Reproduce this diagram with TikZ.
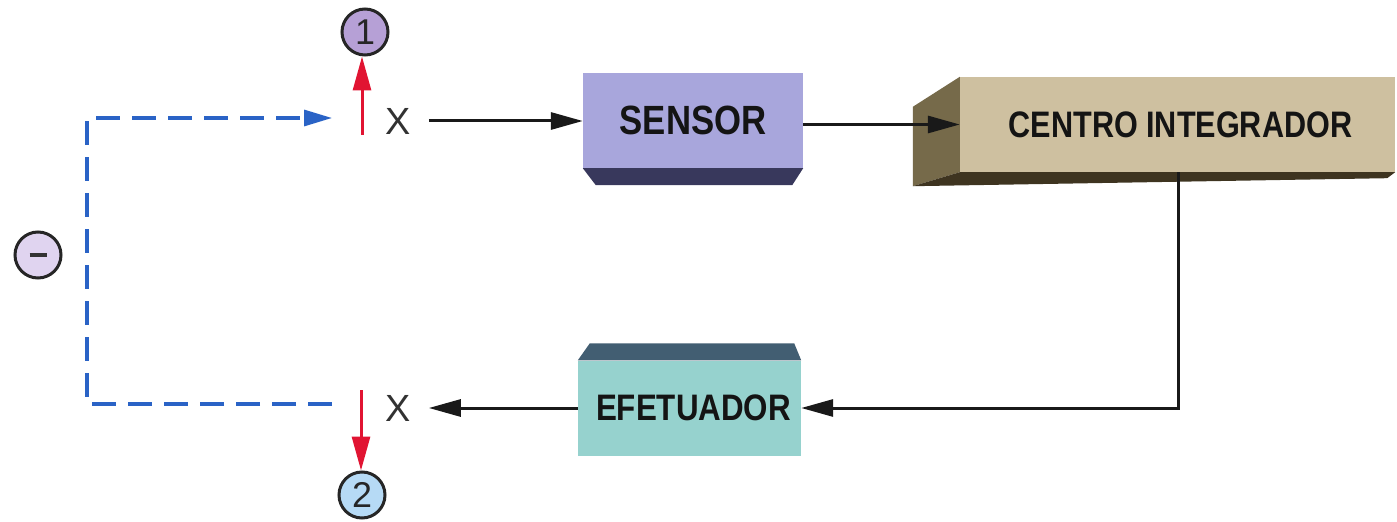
\documentclass[tikz,border=0pt]{standalone}
\usepackage{fontspec}
\usepackage{graphicx}
\setmainfont{Liberation Sans}
\usetikzlibrary{arrows.meta}
\definecolor{sensorfront}{RGB}{168,166,220}
\definecolor{sensordark}{RGB}{56,56,92}
\definecolor{centrofront}{RGB}{206,192,160}
\definecolor{centroside}{RGB}{118,106,74}
\definecolor{centrobottom}{RGB}{62,52,32}
\definecolor{efetfront}{RGB}{150,210,206}
\definecolor{efettop}{RGB}{66,94,114}
\definecolor{redarrow}{RGB}{225,20,50}
\definecolor{bluedash}{RGB}{42,99,198}
\definecolor{circA}{RGB}{182,160,214}
\definecolor{circB}{RGB}{182,218,245}
\definecolor{circC}{RGB}{224,212,240}
\definecolor{xgray}{RGB}{50,50,50}
\tikzset{
  boxlabel/.style={font=\fontsize{37}{37}\selectfont\bfseries, text=black!92, inner sep=0pt},
  sensorbox/.style={boxlabel, fill=sensorfront, minimum width=220bp, minimum height=95bp},
  centrobox/.style={boxlabel, fill=centrofront, minimum width=435bp, minimum height=95bp},
  efetbox/.style={boxlabel, fill=efetfront, minimum width=223bp, minimum height=95bp},
  xlab/.style={font=\fontsize{38}{38}\selectfont, text=xgray, inner sep=0pt},
  numcirc/.style={circle, draw=black!85, line width=3bp, minimum size=46bp, inner sep=0pt,
                  font=\fontsize{36}{36}\selectfont, text=black!85},
  blk/.style={draw=black!90, line width=3bp, -{Triangle[length=32bp,width=17bp]}},
  redarr/.style={draw=redarrow, line width=3bp, -{Triangle[length=34bp,width=18bp]}},
  bluedashed/.style={draw=bluedash, line width=3.2bp, dash pattern=on 24bp off 12bp,
                     -{Triangle[length=28bp,width=16bp]}}
}
\begin{document}
\begin{tikzpicture}[x=1bp,y=-1bp]
\useasboundingbox (0,0) rectangle (1397,522);

% boxes
\node[sensorbox, font=\fontsize{41}{41}\selectfont\bfseries] (sensor) at (693,120.5) {\scalebox{0.85}[1]{SENSOR}};
\fill[sensordark] (sensor.south west) -- (sensor.south east) -- ++(-11,17)
   -- ([shift={(13,17)}]sensor.south west) -- cycle;

\node[centrobox] (centro) at (1177.5,124.5) {\hspace*{6bp}\scalebox{0.83}[1]{CENTRO INTEGRADOR}};
\fill[centroside] (centro.north west) -- (centro.south west)
   -- ([shift={(-47,14)}]centro.south west) -- ([shift={(-47,30)}]centro.north west) -- cycle;
\fill[centrobottom] (centro.south west) -- (centro.south east) -- ++(-8,6)
   -- ([shift={(-47,14)}]centro.south west) -- cycle;

\node[efetbox] (efet) at (689.5,408) {\hspace*{8bp}\scalebox{0.85}[1]{EFETUADOR}};
\fill[efettop] (efet.north west) -- (efet.north east) -- ++(-7,-17)
   -- ([shift={(12,-17)}]efet.north west) -- cycle;

% X marks
\node[xlab] (x1) at (398,121) {X};
\node[xlab] (x2) at (398,408) {X};

% numbered circles
\node[numcirc, fill=circA] (c1) at (365,32) {1};
\node[numcirc, fill=circB] (c2) at (362,495) {2};
\node[numcirc, fill=circC] (cm) at (38,255) {\textcolor{black!80}{\rule{17bp}{3.2bp}}};

% main flow
\draw[blk, shorten <=18bp] (x1.east) -- (sensor.west |- x1.east);
\draw[blk] (sensor.east |- centro.west) -- (centro.west);
\coordinate (corner) at (1178,408);
\draw[draw=black!90, line width=3bp, -{Triangle[length=32bp,width=17bp]}]
   (corner |- centro.south) -- (corner) -- (efet.east);
\draw[blk, shorten >=18bp] (efet.west) -- (x2.east);

% red arrows
\coordinate (r1) at (362,135);
\coordinate (r2) at (361,390);
\draw[redarr] (r1) -- (r1 |- c1.south);
\draw[redarr] (r2) -- (r2 |- c2.north);

% blue dashed feedback
\coordinate (d1) at (332,404);
\coordinate (d2) at (87,404);
\coordinate (d3) at (87,118);
\coordinate (d4) at (332,118);
\draw[bluedashed] (d1) -- (d2) -- (d3) -- (d4);
\end{tikzpicture}
\end{document}
